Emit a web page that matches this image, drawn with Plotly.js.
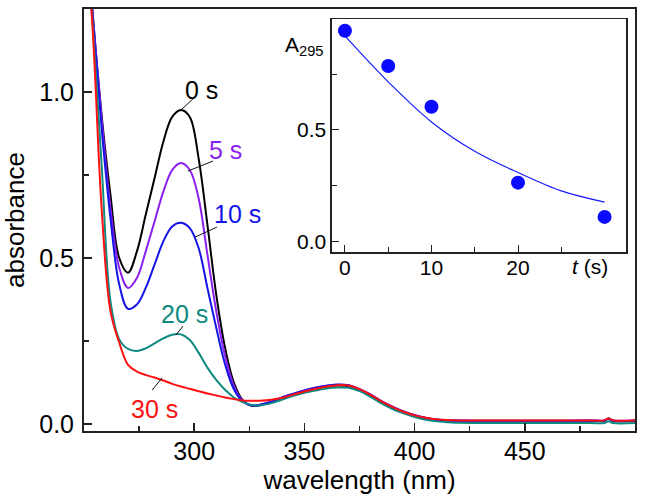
<!DOCTYPE html>
<html>
<head>
<meta charset="utf-8">
<script src="https://cdn.plot.ly/plotly-3.0.1.min.js"></script>
<style>html,body{margin:0;padding:0;background:#fff;}#chart{width:645px;height:504px;}</style>
</head>
<body>
<div id="chart"></div>
<script>
// wavelength grid (nm)
const wavelength = [250, 254, 258, 262, 266, 270, 274, 278, 282, 286, 290, 294, 298, 302, 306, 310, 314, 318, 322, 326, 330, 335, 340, 345, 350, 355, 360, 365, 370, 375, 380, 385, 390, 395, 400, 405, 410, 415, 420, 430, 440, 450, 460, 470, 480, 486, 488, 490, 500];
// absorbance spectra at each time
const abs0s  = [1.60, 1.23, 0.93, 0.69, 0.50, 0.456, 0.52, 0.63, 0.74, 0.85, 0.925, 0.946, 0.925, 0.80, 0.60, 0.39, 0.23, 0.125, 0.072, 0.055, 0.057, 0.066, 0.080, 0.088, 0.098, 0.106, 0.112, 0.116, 0.114, 0.102, 0.086, 0.067, 0.050, 0.037, 0.026, 0.018, 0.013, 0.011, 0.010, 0.009, 0.009, 0.009, 0.009, 0.009, 0.010, 0.010, 0.017, 0.010, 0.010];
const abs5s  = [1.59, 1.23, 0.92, 0.65, 0.47, 0.41, 0.44, 0.52, 0.61, 0.70, 0.765, 0.786, 0.765, 0.68, 0.51, 0.34, 0.205, 0.115, 0.070, 0.056, 0.058, 0.067, 0.081, 0.091, 0.101, 0.109, 0.115, 0.119, 0.117, 0.105, 0.089, 0.069, 0.052, 0.038, 0.027, 0.019, 0.014, 0.012, 0.011, 0.010, 0.010, 0.010, 0.010, 0.010, 0.011, 0.011, 0.017, 0.011, 0.011];
const abs10s = [1.57, 1.22, 0.89, 0.62, 0.42, 0.347, 0.36, 0.41, 0.48, 0.55, 0.595, 0.606, 0.59, 0.53, 0.41, 0.29, 0.18, 0.105, 0.068, 0.056, 0.058, 0.067, 0.080, 0.091, 0.101, 0.109, 0.115, 0.118, 0.117, 0.105, 0.088, 0.068, 0.051, 0.037, 0.026, 0.018, 0.013, 0.011, 0.010, 0.010, 0.010, 0.010, 0.010, 0.010, 0.010, 0.010, 0.016, 0.010, 0.010];
const abs20s = [1.55, 1.20, 0.78, 0.37, 0.255, 0.226, 0.22, 0.228, 0.243, 0.258, 0.269, 0.27, 0.253, 0.215, 0.17, 0.133, 0.103, 0.080, 0.066, 0.057, 0.056, 0.063, 0.074, 0.085, 0.094, 0.101, 0.107, 0.110, 0.109, 0.099, 0.082, 0.062, 0.045, 0.032, 0.021, 0.013, 0.008, 0.005, 0.004, 0.003, 0.003, 0.003, 0.003, 0.003, 0.003, 0.003, 0.008, 0.003, 0.003];
const abs30s = [1.56, 1.18, 0.65, 0.34, 0.245, 0.178, 0.158, 0.148, 0.14, 0.131, 0.121, 0.113, 0.106, 0.099, 0.092, 0.086, 0.080, 0.075, 0.071, 0.070, 0.070, 0.073, 0.079, 0.089, 0.098, 0.106, 0.113, 0.117, 0.116, 0.105, 0.088, 0.068, 0.051, 0.037, 0.026, 0.019, 0.014, 0.012, 0.011, 0.011, 0.011, 0.011, 0.011, 0.011, 0.011, 0.011, 0.017, 0.011, 0.011];
const seriesNames = ['0 s', '5 s', '10 s', '20 s', '30 s'];
// inset: A295 vs time
const insetTime = [0, 5, 10, 20, 30];
const insetA295 = [0.943, 0.786, 0.604, 0.265, 0.112];
const fitTime = [0, 5, 10, 15, 20, 25, 30];
const fitA295 = [0.92, 0.715, 0.536, 0.405, 0.31, 0.228, 0.178];
// tick labels
const xTickVals = [300, 350, 400, 450];
const yTickVals = [0, 0.5, 1.0];
const yTickText = ['0.0', '0.5', '1.0'];
const insetXTickVals = [0, 10, 20];
const insetYTickVals = [0, 0.5];
const insetYTickText = ['0.0', '0.5'];

const colors = ['#000000', '#8b1ff0', '#1414e6', '#0e8a80', '#ff1010'];
const spectra = [abs0s, abs5s, abs10s, abs20s, abs30s];

const FONT = 'Liberation Sans, Arial, Helvetica, sans-serif';
const axisCol = '#222';

const traces = spectra.map((ys, i) => ({
  x: wavelength, y: ys, type: 'scatter', mode: 'lines', name: seriesNames[i],
  line: {color: colors[i], width: 2, shape: 'spline', smoothing: 1},
  xaxis: 'x', yaxis: 'y', hoverinfo: 'skip'
}));
traces.push({
  x: fitTime, y: fitA295, type: 'scatter', mode: 'lines', name: 'fit',
  line: {color: '#1a1aff', width: 1.2, shape: 'spline'}, xaxis: 'x2', yaxis: 'y2'
});
traces.push({
  x: insetTime, y: insetA295, type: 'scatter', mode: 'markers', name: 'A295',
  marker: {color: '#0a0aff', size: 14}, xaxis: 'x2', yaxis: 'y2'
});

// label positions (data coords): [text x, text y, connector x0, y0, x1, y1]
const labelPos = [
  [303.5, 1.005, 300.4, 0.985, 294.0, 0.946],
  [314.4, 0.825, 308.5, 0.792, 297.2, 0.762],
  [319.6, 0.633, 310.3, 0.593, 300.4, 0.563],
  [295.8, 0.332, 294.9, 0.295, 291.7, 0.268],
  [282.2, 0.046, 280.9, 0.102, 285.4, 0.139]
];
const annotations = labelPos.map((p, i) => ({
  x: p[0], y: p[1], xref: 'x', yref: 'y', text: seriesNames[i], showarrow: false,
  font: {family: FONT, size: 25, color: colors[i]}, xanchor: 'center', yanchor: 'middle'
}));
const shapes = labelPos.map(p => ({
  type: 'line', xref: 'x', yref: 'y', x0: p[2], y0: p[3], x1: p[4], y1: p[5],
  line: {color: '#111', width: 1}
}));
annotations.push({
  xref: 'paper', yref: 'paper', x: 0.440, y: 0.912, xanchor: 'right', yanchor: 'middle',
  text: 'A<sub>295</sub>', showarrow: false, font: {family: FONT, size: 21, color: '#000'}
});
annotations.push({
  xref: 'paper', yref: 'paper', x: 0.918, y: 0.389, xanchor: 'center', yanchor: 'middle',
  text: '<i>t</i> (s)', showarrow: false, font: {family: FONT, size: 21, color: '#000'}
});

const baseAxis = {
  showline: true, linecolor: axisCol, linewidth: 2, mirror: true, showgrid: false, zeroline: false,
  ticks: 'inside', ticklen: 8, tickwidth: 1.5, tickcolor: axisCol, automargin: false
};

const layout = {
  width: 645, height: 504,
  margin: {l: 84, r: 10, t: 9, b: 73},
  paper_bgcolor: '#fff', plot_bgcolor: '#fff',
  showlegend: false,
  font: {family: FONT, color: '#000'},
  xaxis: Object.assign({}, baseAxis, {
    range: [250, 500], tickmode: 'array', tickvals: xTickVals,
    minor: {tickmode: 'array', tickvals: [275, 325, 375, 425, 475], ticks: 'inside', ticklen: 5, tickwidth: 1.5, tickcolor: axisCol},
    tickfont: {size: 25}, ticklabelstandoff: -3,
    title: {text: 'wavelength (nm)', font: {size: 26}, standoff: 4}
  }),
  yaxis: Object.assign({}, baseAxis, {
    range: [-0.021, 1.25], tickmode: 'array', tickvals: yTickVals, ticktext: yTickText,
    minor: {tickmode: 'array', tickvals: [0.25, 0.75], ticks: 'inside', ticklen: 5, tickwidth: 1.5, tickcolor: axisCol},
    tickfont: {size: 25}, ticklabelstandoff: 3,
    title: {text: 'absorbance', font: {size: 26}, standoff: 10}
  }),
  xaxis2: Object.assign({}, baseAxis, {
    domain: [0.450, 0.984], anchor: 'y2', range: [-1.5, 32.5], linewidth: 1.5,
    tickmode: 'array', tickvals: insetXTickVals, ticklen: 7, tickwidth: 1,
    minor: {tickmode: 'array', tickvals: [5, 15, 25], ticks: 'inside', ticklen: 5, tickwidth: 1, tickcolor: axisCol},
    tickfont: {size: 21}, ticklabelstandoff: -4
  }),
  yaxis2: Object.assign({}, baseAxis, {
    domain: [0.424, 0.976], anchor: 'x2', range: [-0.045, 0.995], linewidth: 1.5,
    tickmode: 'array', tickvals: insetYTickVals, ticktext: insetYTickText, ticklen: 7, tickwidth: 1,
    minor: {tickmode: 'array', tickvals: [0.25, 0.75], ticks: 'inside', ticklen: 5, tickwidth: 1, tickcolor: axisCol},
    tickfont: {size: 21}, ticklabelstandoff: 0
  }),
  annotations: annotations,
  shapes: shapes
};

Plotly.newPlot('chart', traces, layout, {displayModeBar: false, staticPlot: true});
</script>
</body>
</html>
